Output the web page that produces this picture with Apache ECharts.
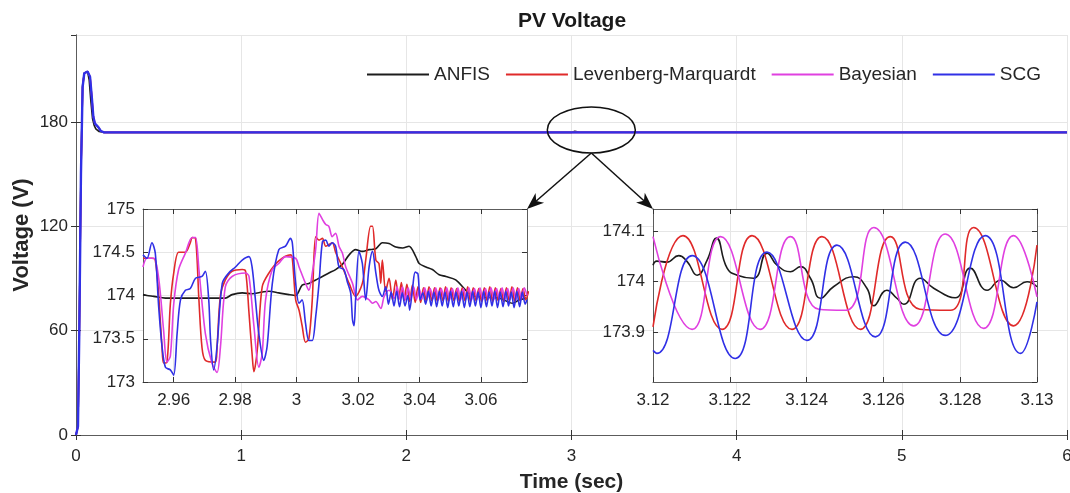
<!DOCTYPE html>
<html>
<head>
<meta charset="utf-8">
<title>PV Voltage</title>
<script src="https://cdn.jsdelivr.net/npm/echarts@6/dist/echarts.min.js"></script>
<style>
  html, body { margin: 0; padding: 0; background: #fff; }
  #pvVoltage { width: 1070px; height: 493px; }
</style>
</head>
<body>
<div id="pvVoltage"></div>
<script>
// legend names, in drawing order (SCG ends up on top)
const seriesNames = ['ANFIS', 'Levenberg-Marquardt', 'Bayesian', 'SCG'];
const seriesColors = ['#1c1c1c', '#e02a2a', '#e040e0', '#3030e6'];

// main plot, time (s) / voltage (V)
const anfisMain = [[0, 0], [0.012, 5], [0.02, 62], [0.03, 152], [0.04, 201], [0.05, 208], [0.07, 209], [0.08, 204], [0.09, 192], [0.1, 182], [0.11, 178], [0.12, 176], [0.14, 174.5], [0.17, 174], [3.0, 174], [3.02, 174.6], [3.05, 174.1], [6, 174]];
const lmMain = [[0, 0], [0.012, 5], [0.02, 60], [0.03, 150], [0.04, 200], [0.05, 208], [0.07, 209], [0.085, 206], [0.095, 195], [0.105, 183], [0.115, 179], [0.125, 179], [0.135, 177], [0.15, 174.8], [0.17, 174], [6, 174]];
const bayesMain = [[0, 0], [0.012, 5], [0.02, 60], [0.03, 150], [0.04, 200], [0.05, 208], [0.07, 209], [0.085, 206], [0.095, 195], [0.105, 183], [0.115, 179], [0.125, 179], [0.135, 177], [0.15, 174.8], [0.17, 174], [6, 174]];
const scgMain = [[0, 0], [0.012, 5], [0.02, 60], [0.03, 150], [0.04, 200], [0.05, 208], [0.07, 209], [0.085, 206], [0.095, 195], [0.105, 183], [0.115, 179], [0.125, 179], [0.135, 177], [0.15, 174.8], [0.17, 174], [6, 174]];

// left zoom, 2.95 .. 3.075 s
const anfisZoomA = [[2.95, 174.01], [2.9513, 174.0], [2.9535, 173.99], [2.9573, 173.97], [2.9638, 173.97], [2.9714, 173.97], [2.9768, 173.97], [2.979, 174.01], [2.9823, 174.03], [2.9855, 174.02], [2.9888, 174.04], [2.991, 174.05], [2.9942, 174.03], [2.9975, 174.01], [2.9997, 174.0], [3.0018, 174.12], [3.004, 174.14], [3.0062, 174.18], [3.0084, 174.22], [3.0105, 174.26], [3.0127, 174.3], [3.0149, 174.36], [3.0171, 174.47], [3.0192, 174.53], [3.0214, 174.51], [3.0236, 174.53], [3.0258, 174.54], [3.0279, 174.61], [3.0301, 174.6], [3.0323, 174.56], [3.0345, 174.55], [3.0366, 174.57], [3.0388, 174.45], [3.0399, 174.37], [3.0421, 174.33], [3.0442, 174.3], [3.0464, 174.24], [3.0486, 174.22], [3.0518, 174.18], [3.0551, 174.06], [3.0573, 174.0], [3.0605, 173.98], [3.066, 173.97], [3.0703, 173.91], [3.0725, 173.95], [3.0747, 173.97]];
const lmZoomA = [[2.95, 174.43], [2.9529, 174.43], [2.954, 174.41], [2.9551, 174.0], [2.9562, 173.4], [2.9567, 173.22], [2.9578, 173.23], [2.9589, 173.9], [2.96, 174.26], [2.9616, 174.5], [2.9638, 174.5], [2.9654, 174.61], [2.966, 174.67], [2.9671, 174.66], [2.9682, 173.95], [2.9692, 173.4], [2.9703, 173.25], [2.9736, 173.23], [2.9741, 173.4], [2.9752, 174.0], [2.9768, 174.18], [2.979, 174.28], [2.9823, 174.3], [2.9834, 174.28], [2.9845, 173.8], [2.9855, 173.33], [2.9861, 173.12], [2.9872, 173.37], [2.9888, 174.1], [2.991, 174.26], [2.9942, 174.4], [2.998, 174.47], [2.9986, 174.43], [2.9997, 173.95], [3.0008, 173.83], [3.0018, 173.65], [3.0029, 173.46], [3.004, 173.5], [3.0051, 173.95], [3.0062, 174.68], [3.0073, 174.64], [3.0084, 174.66], [3.0095, 174.57], [3.0116, 174.61], [3.0127, 174.5], [3.0149, 174.33], [3.0171, 174.14], [3.0192, 173.99], [3.0214, 174.14], [3.0225, 174.41], [3.0241, 174.8], [3.0247, 174.8], [3.0258, 174.41], [3.0268, 174.37], [3.0274, 174.14], [3.0279, 174.41], [3.029, 174.05], [3.0301, 174.2], [3.0312, 173.95], [3.0323, 174.18], [3.0332, 173.95], [3.0341, 174.15], [3.035, 173.94], [3.0359, 174.13], [3.0368, 173.93], [3.0377, 174.12], [3.0386, 173.92], [3.0395, 174.1], [3.0404, 173.92], [3.0413, 174.09], [3.0422, 173.93], [3.0431, 174.1], [3.044, 173.94], [3.0449, 174.09], [3.0458, 173.93], [3.0467, 174.09], [3.0476, 173.94], [3.0485, 174.1], [3.0494, 173.93], [3.0503, 174.09], [3.0512, 173.94], [3.0521, 174.08], [3.053, 173.93], [3.0539, 174.09], [3.0548, 173.94], [3.0557, 174.1], [3.0566, 173.93], [3.0575, 174.09], [3.0584, 173.94], [3.0593, 174.08], [3.0602, 173.93], [3.0611, 174.09], [3.062, 173.94], [3.0629, 174.1], [3.0638, 173.93], [3.0647, 174.09], [3.0656, 173.94], [3.0665, 174.08], [3.0674, 173.93], [3.0683, 174.09], [3.0692, 173.94], [3.0701, 174.1], [3.071, 173.93], [3.0719, 174.09], [3.0728, 173.94], [3.0737, 174.08], [3.0746, 173.95], [3.0755, 174.05]];
const bayesZoomA = [[2.95, 174.33], [2.9513, 174.43], [2.9535, 174.43], [2.9551, 174.2], [2.9567, 173.6], [2.9578, 173.23], [2.9589, 173.3], [2.96, 173.9], [2.9616, 174.3], [2.9638, 174.49], [2.966, 174.67], [2.9671, 174.67], [2.9682, 174.3], [2.9703, 173.56], [2.9725, 173.21], [2.9741, 173.11], [2.9752, 173.4], [2.9768, 174.1], [2.979, 174.22], [2.9834, 174.26], [2.9845, 174.22], [2.9861, 173.65], [2.9877, 173.17], [2.9888, 173.33], [2.9899, 173.95], [2.9921, 174.3], [2.9942, 174.37], [2.9964, 174.45], [2.9997, 174.43], [3.0008, 174.33], [3.0029, 174.14], [3.004, 174.06], [3.0051, 174.26], [3.0062, 174.53], [3.0073, 174.95], [3.0084, 174.88], [3.0095, 174.82], [3.0105, 174.8], [3.0116, 174.68], [3.0127, 174.72], [3.0138, 174.57], [3.0149, 174.49], [3.016, 174.33], [3.0182, 174.14], [3.0198, 173.95], [3.0214, 173.99], [3.0236, 173.95], [3.0247, 173.91], [3.0258, 173.93], [3.0274, 173.85], [3.0285, 173.99], [3.0301, 174.06], [3.0318, 173.97], [3.0327, 174.1], [3.0336, 173.96], [3.0345, 174.1], [3.0354, 173.95], [3.0363, 174.09], [3.0372, 173.96], [3.0381, 174.1], [3.039, 173.95], [3.0399, 174.08], [3.0408, 173.96], [3.0417, 174.09], [3.0426, 173.97], [3.0435, 174.08], [3.0444, 173.96], [3.0453, 174.09], [3.0462, 173.95], [3.0471, 174.08], [3.048, 173.96], [3.0489, 174.09], [3.0498, 173.95], [3.0507, 174.08], [3.0516, 173.96], [3.0525, 174.09], [3.0534, 173.95], [3.0543, 174.08], [3.0552, 173.96], [3.0561, 174.09], [3.057, 173.95], [3.0579, 174.08], [3.0588, 173.96], [3.0597, 174.09], [3.0606, 173.95], [3.0615, 174.08], [3.0624, 173.96], [3.0633, 174.09], [3.0642, 173.95], [3.0651, 174.08], [3.066, 173.96], [3.0669, 174.09], [3.0678, 173.95], [3.0687, 174.08], [3.0696, 173.96], [3.0705, 174.09], [3.0714, 173.95], [3.0723, 174.08], [3.0732, 173.96], [3.0741, 174.09], [3.075, 174.0]];
const scgZoomA = [[2.95, 174.47], [2.9513, 174.43], [2.9529, 174.61], [2.954, 174.49], [2.9551, 173.87], [2.9562, 173.41], [2.9573, 173.17], [2.9589, 173.14], [2.96, 173.08], [2.9611, 173.56], [2.9622, 173.95], [2.9638, 174.06], [2.9654, 174.08], [2.9671, 174.2], [2.9692, 174.22], [2.9703, 174.28], [2.9714, 173.95], [2.972, 173.48], [2.973, 173.14], [2.9741, 173.41], [2.9758, 174.14], [2.9779, 174.26], [2.9801, 174.33], [2.9823, 174.41], [2.9845, 174.45], [2.9855, 174.33], [2.9866, 173.95], [2.9877, 173.56], [2.9893, 173.25], [2.9904, 173.41], [2.9921, 174.14], [2.9942, 174.53], [2.9964, 174.57], [2.998, 174.66], [2.9986, 174.61], [2.9997, 174.14], [3.0008, 173.91], [3.0018, 173.95], [3.0029, 173.68], [3.004, 173.48], [3.0051, 173.48], [3.0062, 173.75], [3.0073, 174.14], [3.0084, 174.62], [3.0095, 174.64], [3.0105, 174.57], [3.0116, 174.61], [3.0127, 174.57], [3.0138, 174.33], [3.0154, 174.3], [3.0165, 174.16], [3.0176, 174.03], [3.0182, 173.72], [3.0187, 173.65], [3.0192, 173.95], [3.0203, 174.51], [3.0214, 174.37], [3.0225, 173.95], [3.0236, 174.33], [3.0247, 174.51], [3.0258, 174.26], [3.0268, 174.06], [3.0279, 173.99], [3.029, 174.1], [3.0299, 173.9], [3.0308, 174.04], [3.0317, 173.88], [3.0326, 174.05], [3.0335, 173.87], [3.0344, 174.03], [3.0353, 173.88], [3.0362, 174.0], [3.0368, 173.83], [3.0378, 174.1], [3.0386, 174.27], [3.0395, 174.25], [3.0402, 173.95], [3.0411, 174.03], [3.042, 173.9], [3.0429, 174.05], [3.0438, 173.88], [3.0447, 174.04], [3.0456, 173.87], [3.0465, 174.05], [3.0474, 173.88], [3.0483, 174.04], [3.0492, 173.86], [3.0501, 174.05], [3.051, 173.87], [3.0519, 174.04], [3.0528, 173.88], [3.0537, 174.05], [3.0546, 173.86], [3.0555, 174.04], [3.0564, 173.87], [3.0573, 174.05], [3.0582, 173.88], [3.0591, 174.04], [3.06, 173.86], [3.0609, 174.05], [3.0618, 173.87], [3.0627, 174.04], [3.0636, 173.88], [3.0645, 174.05], [3.0654, 173.86], [3.0663, 174.04], [3.0672, 173.87], [3.0681, 174.05], [3.069, 173.88], [3.0699, 174.04], [3.0708, 173.86], [3.0717, 174.05], [3.0726, 173.87], [3.0735, 174.04], [3.0744, 173.9], [3.075, 173.95]];
const zoomATicks = [2.96, 2.98, 3, 3.02, 3.04, 3.06];

// right zoom, 3.12 .. 3.13 s
const anfisZoomB = [[3.12, 174.033], [3.1201, 174.041], [3.12036, 174.039], [3.12067, 174.052], [3.12089, 174.04], [3.12115, 174.013], [3.12141, 174.043], [3.12165, 174.087], [3.12193, 174.027], [3.12219, 174.013], [3.12262, 174.007], [3.12297, 174.057], [3.12323, 174.033], [3.12358, 174.02], [3.12384, 174.03], [3.1241, 174.007], [3.12436, 173.967], [3.1247, 173.99], [3.12523, 174.01], [3.12557, 173.987], [3.12575, 173.952], [3.12609, 173.983], [3.12635, 173.967], [3.12653, 173.955], [3.12696, 174.007], [3.12731, 173.987], [3.12787, 173.968], [3.12826, 174.027], [3.1287, 173.983], [3.12905, 174.003], [3.12939, 173.988], [3.12974, 174.0], [3.13, 173.99]];
const lmZoomB = [[3.12, 173.91], [3.12078, 174.092], [3.1218, 173.905], [3.12258, 174.092], [3.12362, 173.905], [3.1244, 174.09], [3.1254, 173.905], [3.12618, 174.09], [3.12695, 173.945], [3.12775, 173.943], [3.12835, 174.108], [3.12939, 173.912], [3.13, 174.073]];
const bayesZoomB = [[3.12, 174.09], [3.12102, 173.905], [3.12176, 174.09], [3.12279, 173.905], [3.12358, 174.09], [3.12432, 173.945], [3.12502, 173.943], [3.12575, 174.108], [3.12679, 173.912], [3.12761, 174.095], [3.12861, 173.907], [3.12939, 174.092], [3.13, 173.97]];
const scgZoomB = [[3.12, 173.863], [3.1201, 173.857], [3.12102, 174.052], [3.12214, 173.847], [3.12297, 174.059], [3.12401, 173.883], [3.12479, 174.073], [3.12579, 173.89], [3.12657, 174.079], [3.12761, 173.893], [3.12865, 174.092], [3.12957, 173.857], [3.13, 173.96]];

const mainData = [anfisMain, lmMain, bayesMain, scgMain];
const zoomAData = [anfisZoomA, lmZoomA, bayesZoomA, scgZoomA];
const zoomBData = [anfisZoomB, lmZoomB, bayesZoomB, scgZoomB];

const FONT = 'Liberation Sans, Arial, Helvetica, sans-serif';
const labelStyle = { color: '#262626', fontSize: 17, fontFamily: FONT };
const lineColor = '#5c5c5c';
const splitColor = '#e6e6e6';

// one MATLAB-like box: labelled bottom/left axes, tick-only top/right axes
function boxAxes(gridIndex, xr, yr, z, xMargin) {
  const tick = { show: true, inside: true, length: 5, lineStyle: { color: '#333' } };
  const xBase = { type: 'value', gridIndex: gridIndex, min: xr.min, max: xr.max, z: z,
    axisLine: { show: true, lineStyle: { color: lineColor, width: 1 } } };
  if (xr.interval) xBase.interval = xr.interval;
  const yBase = { type: 'value', gridIndex: gridIndex, min: yr.min, max: yr.max, interval: yr.interval, z: z,
    axisLine: { show: true, lineStyle: { color: lineColor, width: 1 } } };
  const xt = Object.assign({}, tick, xr.ticks ? { customValues: xr.ticks } : {});
  const xBottom = Object.assign({}, xBase, {
    position: 'bottom',
    axisTick: xt,
    axisLabel: Object.assign({ margin: xMargin, showMinLabel: true, showMaxLabel: true,
      customValues: xr.ticks }, labelStyle),
    splitLine: { show: true, lineStyle: { color: splitColor, width: 1 } }
  });
  if (!xr.ticks) delete xBottom.axisLabel.customValues;
  const xTop = Object.assign({}, xBase, {
    position: 'top', axisTick: xt, axisLabel: { show: false }, splitLine: { show: false }
  });
  const yLeft = Object.assign({}, yBase, {
    position: 'left',
    axisTick: tick,
    axisLabel: Object.assign({ margin: 8, showMinLabel: yr.showMin !== false, showMaxLabel: yr.showMax !== false }, labelStyle),
    splitLine: { show: true, lineStyle: { color: splitColor, width: 1 } }
  });
  const yRight = Object.assign({}, yBase, {
    position: 'right', axisTick: tick, axisLabel: { show: false }, splitLine: { show: false }
  });
  return { x: [xBottom, xTop], y: [yLeft, yRight] };
}

const mainAxes = boxAxes(0, { min: 0, max: 6, interval: 1 }, { min: 0, max: 230, interval: 60, showMax: false }, 0, 13);
mainAxes.x[0].name = 'Time (sec)';
mainAxes.x[0].nameLocation = 'middle';
mainAxes.x[0].nameGap = 37;
mainAxes.x[0].nameMoveOverlap = false;
mainAxes.x[0].nameTextStyle = { fontSize: 21, fontWeight: 'bold', color: '#262626', fontFamily: FONT };
mainAxes.y[0].name = 'Voltage (V)';
mainAxes.y[0].nameLocation = 'middle';
mainAxes.y[0].nameGap = 43;
mainAxes.y[0].nameMoveOverlap = false;
mainAxes.y[0].nameTextStyle = { fontSize: 22, fontWeight: 'bold', color: '#262626', fontFamily: FONT };

const zoomAAxes = boxAxes(1, { min: 2.95, max: 3.075, ticks: zoomATicks }, { min: 173, max: 175, interval: 0.5 }, 4, 10);
const zoomBAxes = boxAxes(2, { min: 3.12, max: 3.13, interval: 0.002 }, { min: 173.8, max: 174.145, interval: 0.1, showMin: false, showMax: false }, 4, 10);

const series = [];
seriesNames.forEach(function (name, i) {
  series.push({ name: name, type: 'line', xAxisIndex: 0, yAxisIndex: 0, data: mainData[i],
    symbol: 'none', lineStyle: { width: i === 3 ? 2.4 : 1.6, color: seriesColors[i] }, itemStyle: { color: seriesColors[i] }, z: 2 });
  series.push({ name: name, type: 'line', xAxisIndex: 2, yAxisIndex: 2, data: zoomAData[i], smooth: 0.3,
    symbol: 'none', lineStyle: { width: 1.6, color: seriesColors[i] }, itemStyle: { color: seriesColors[i] }, z: 5 });
  series.push({ name: name, type: 'line', xAxisIndex: 4, yAxisIndex: 4, data: zoomBData[i], smooth: 0.5,
    symbol: 'none', lineStyle: { width: 1.6, color: seriesColors[i] }, itemStyle: { color: seriesColors[i] }, z: 5 });
});

const option = {
  backgroundColor: '#ffffff',
  animation: false,
  title: {
    text: 'PV Voltage',
    left: 567,
    top: 6,
    textAlign: 'center',
    textStyle: { fontSize: 21, fontWeight: 'bold', color: '#1a1a1a', fontFamily: FONT }
  },
  legend: {
    data: seriesNames,
    icon: 'rect',
    left: 362,
    top: 60,
    itemWidth: 62,
    itemHeight: 2,
    itemGap: 16,
    textStyle: { fontSize: 19, color: '#262626', fontFamily: FONT }
  },
  grid: [
    { left: 76, right: 3, top: 35, bottom: 58, containLabel: false, outerBoundsMode: 'none' },
    { left: 143, top: 209, width: 384, height: 173, show: true, backgroundColor: '#ffffff', borderWidth: 0, z: 3, containLabel: false, outerBoundsMode: 'none' },
    { left: 653, top: 209, width: 384, height: 173, show: true, backgroundColor: '#ffffff', borderWidth: 0, z: 3, containLabel: false, outerBoundsMode: 'none' }
  ],
  xAxis: mainAxes.x.concat(zoomAAxes.x, zoomBAxes.x),
  yAxis: mainAxes.y.concat(zoomAAxes.y, zoomBAxes.y),
  series: series
};

const pvChart = echarts.init(document.getElementById('pvVoltage'), null, { renderer: 'canvas' });
pvChart.setOption(option);

// ellipse around t = 3.12 s and two arrows pointing to the zoom boxes
function arrow(from, to) {
  const dx = to[0] - from[0], dy = to[1] - from[1];
  const len = Math.sqrt(dx * dx + dy * dy), ux = dx / len, uy = dy / len;
  const head = 17, half = 6.5;
  const bx = to[0] - ux * head, by = to[1] - uy * head;
  const nx = to[0] - ux * head * 0.72, ny = to[1] - uy * head * 0.72;
  return [
    { type: 'line', z: 20, shape: { x1: from[0], y1: from[1], x2: nx, y2: ny }, style: { stroke: '#111', lineWidth: 1.5 } },
    { type: 'polygon', z: 20, shape: { points: [to, [bx - uy * half, by + ux * half], [nx, ny], [bx + uy * half, by - ux * half]] }, style: { fill: '#111' } }
  ];
}
const ringCenter = pvChart.convertToPixel({ xAxisIndex: 0, yAxisIndex: 0 }, [3.12, 175.4]);
const cornerA = pvChart.convertToPixel({ xAxisIndex: 2, yAxisIndex: 2 }, [3.075, 175]);
const cornerB = pvChart.convertToPixel({ xAxisIndex: 4, yAxisIndex: 4 }, [3.12, 174.145]);
const ry = 23;
const start = [ringCenter[0], ringCenter[1] + ry];
pvChart.setOption({
  graphic: [
    { type: 'ellipse', z: 20, shape: { cx: ringCenter[0], cy: ringCenter[1], rx: 44, ry: ry }, style: { fill: 'none', stroke: '#111', lineWidth: 1.5 } }
  ].concat(arrow(start, cornerA), arrow(start, cornerB))
});
</script>
</body>
</html>
